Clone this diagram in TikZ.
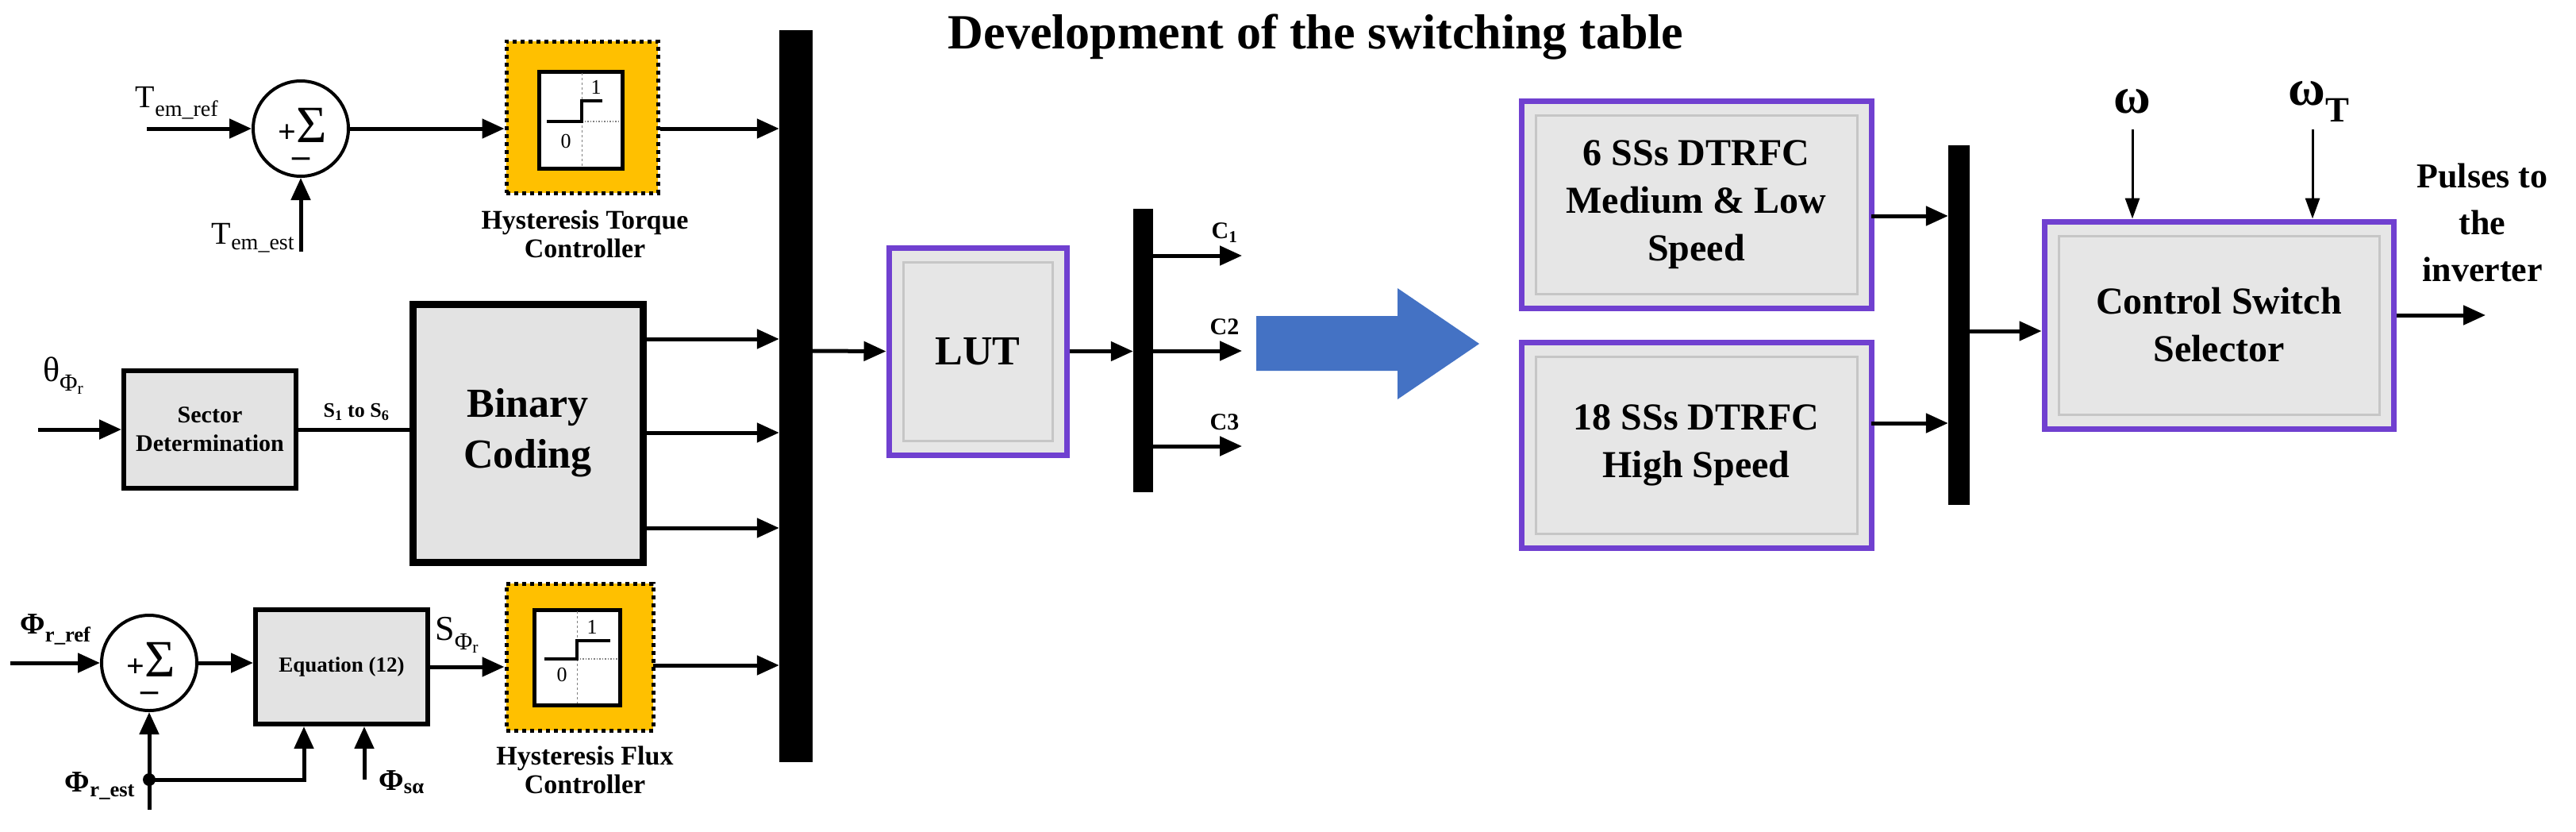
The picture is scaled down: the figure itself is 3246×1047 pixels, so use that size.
\documentclass[tikz,border=0pt]{standalone}
\usepackage{fontspec}
\setmainfont{Liberation Serif}
\usetikzlibrary{arrows.meta,calc}
\newcommand\fsz[2]{\fontsize{#1}{#2}\selectfont}
\definecolor{pur}{HTML}{7040D0}
\definecolor{boxg}{HTML}{E6E6E6}
\definecolor{hy}{HTML}{FFC000}
\definecolor{blu}{HTML}{4472C4}
\begin{document}
\begin{tikzpicture}[x=1pt,y=-1pt,
  arr/.style={-{Triangle[length=28pt,width=24pt]},line width=5pt},
  tarr/.style={-{Triangle[length=26pt,width=18pt]},line width=3pt},
  pbox/.style={draw=pur,line width=7pt,fill=boxg,inner sep=0pt,align=center,
    font=\bfseries\fsz{48}{60},
    path picture={\draw[gray!45,line width=3pt] ([shift={(18pt,-18pt)}]path picture bounding box.north west) rectangle ([shift={(-18pt,18pt)}]path picture bounding box.south east);}},
  kbox/.style={draw=black,line width=7pt,fill=gray!22,inner sep=0pt,align=center},
  bus/.style={fill=black,inner sep=0pt},
  sumc/.style={circle,draw,line width=4pt,minimum size=120pt,inner sep=0pt,fill=white},
  hyst/.style={fill=hy,draw=black,line width=5pt,dash pattern=on 5pt off 5pt,inner sep=0pt},
  lab/.style={inner sep=0pt,align=center}]
\useasboundingbox (0,0) rectangle (3246,1047);
\fill[white] (0,0) rectangle (3246,1047);

% title
\node[lab,font=\bfseries\fsz{62}{70}] (title) at (1658,47) {Development of the switching table};

% ---- torque loop
\node[sumc] (sum1) at (379,162) {};
\node[lab,font=\fsz{66}{66}] (sg1) at (381,158) {{\bfseries\fsz{40}{40}+}Σ};
\node[lab,font=\bfseries\fsz{44}{44}] (m1) at (379,205) {–};
\node[hyst,minimum width=191pt,minimum height=191pt] (hystT) at (733.5,147.5) {};
\draw[line width=5pt,fill=white] (679,90) rectangle (784,212);
\draw[gray,line width=1pt,dashed] (733,92) -- (733,210);
\draw[gray,line width=1.5pt,dotted] (733,153) -- (782,153);
\draw[line width=4pt] (689,153) -- (733,153) -- (733,127) -- (759,127);
\node[lab,font=\fsz{26}{26}] (one1) at (751,110) {1};
\node[lab,font=\fsz{26}{26}] (zero1) at (713,178) {0};
\node[lab,font=\bfseries\fsz{34}{36}] (htl) at (737,295) {Hysteresis Torque\\Controller};
\node[lab,font=\fsz{40}{40}] (tref) at (223,130) {T\textsubscript{em\_ref}};
\node[lab,font=\fsz{40}{40}] (test) at (319,300) {T\textsubscript{em\_est}};
\coordinate (trefin) at (185,162);
\coordinate (testin) at (379,317);
\draw[arr] (trefin) -- (sum1.west);
\draw[arr] (testin) -- (sum1.south);
\draw[arr] (sum1.east) -- (sum1.east -| hystT.west);

% ---- bus 1
\node[bus,minimum width=42pt,minimum height=922pt] (bus1) at (1003,499) {};
\draw[arr] (hystT.east |- sum1) -- (sum1 -| bus1.west);

% ---- sector / binary
\node[kbox,line width=6pt,minimum width=217pt,minimum height=148pt,font=\bfseries\fsz{30}{36}] (sector) at (264.5,541) {Sector\\Determination};
\node[kbox,line width=9pt,minimum width=290pt,minimum height=325pt,font=\bfseries\fsz{52}{64}] (binary) at (665,545.5) {Binary\\Coding};
\node[lab,font=\fsz{44}{44}] (theta) at (80,473) {θ\textsubscript{Φ\textsubscript{r}}};
\coordinate (thin) at (48,541);
\draw[arr] (thin) -- (sector.west);
\draw[line width=5pt] (sector.east) -- (sector.east -| binary.west);
\node[lab,font=\bfseries\fsz{26}{26}] (s16) at (449,519) {S\textsubscript{1} to S\textsubscript{6}};
\coordinate (b1) at (810,427);
\coordinate (b2) at (810,545);
\coordinate (b3) at (810,665);
\draw[arr] (b1) -- (b1 -| bus1.west);
\draw[arr] (b2) -- (b2 -| bus1.west);
\draw[arr] (b3) -- (b3 -| bus1.west);

% ---- flux loop
\node[sumc] (sum2) at (188,835) {};
\node[lab,font=\fsz{66}{66}] (sg2) at (190,831) {{\bfseries\fsz{40}{40}+}Σ};
\node[lab,font=\bfseries\fsz{44}{44}] (m2) at (188,878) {–};
\node[kbox,line width=6pt,minimum width=217pt,minimum height=144pt,font=\bfseries\fsz{27}{30}] (eq) at (430.5,840) {Equation (12)};
\node[hyst,minimum width=185pt,minimum height=185pt] (hystF) at (730.5,827.5) {};
\draw[line width=5pt,fill=white] (673,768) rectangle (781,888);
\draw[gray,line width=1pt,dashed] (727,770) -- (727,886);
\draw[gray,line width=1.5pt,dotted] (727,830) -- (779,830);
\draw[line width=4pt] (686,830) -- (727,830) -- (727,807) -- (769,807);
\node[lab,font=\fsz{26}{26}] (one2) at (746,790) {1};
\node[lab,font=\fsz{26}{26}] (zero2) at (708,850) {0};
\node[lab,font=\bfseries\fsz{34}{36}] (hfl) at (737,970) {Hysteresis Flux\\Controller};
\node[lab,font=\bfseries\fsz{38}{38}] (pref) at (70,793) {Φ\textsubscript{r\_ref}};
\node[lab,font=\bfseries\fsz{38}{38}] (pest) at (126,990) {Φ\textsubscript{r\_est}};
\node[lab,font=\bfseries\fsz{38}{38}] (psa) at (506,985) {Φ\textsubscript{sα}};
\node[lab,font=\fsz{44}{44}] (sphi) at (576,800) {S\textsubscript{Φ\textsubscript{r}}};
\coordinate (prefin) at (13,835);
\draw[arr] (prefin) -- (sum2.west);
\draw[arr] (sum2.east) -- (sum2.east -| eq.west);
\draw[arr] (eq.east) -- (eq.east -| hystF.west);
\coordinate (fo) at (823,838);
\draw[arr] (fo) -- (fo -| bus1.west);
\coordinate (pestin) at (188,1020);
\coordinate (dot) at (188,982);
\coordinate (eqin) at (383,982);
\coordinate (psain) at (459,982);
\draw[arr] (pestin) -- (sum2.south);
\draw[arr] (dot) -- (eqin) -- (eqin |- eq.south);
\draw[arr] (psain) -- (psain |- eq.south);
\fill (dot) circle (8pt);

% ---- LUT
\node[pbox,minimum width=224pt,minimum height=261pt,font=\bfseries\fsz{52}{60}] (lut) at (1232,442.5) {LUT};
\coordinate (lutin) at (1024,442);
\draw[arr] (lutin) -- (lut.west);
\node[bus,minimum width=25pt,minimum height=357pt] (bus2) at (1440.5,441.5) {};
\draw[arr] (lut.east) -- (lut.east -| bus2.west);
\coordinate (c1) at (1565,322);
\coordinate (c2) at (1565,442);
\coordinate (c3) at (1565,562);
\draw[arr] (c1 -| bus2.east) -- (c1);
\draw[arr] (c2 -| bus2.east) -- (c2);
\draw[arr] (c3 -| bus2.east) -- (c3);
\node[lab,font=\bfseries\fsz{30}{30}] (lc1) at (1543,293) {C\textsubscript{1}};
\node[lab,font=\bfseries\fsz{30}{30}] (lc2) at (1543,412) {C2};
\node[lab,font=\bfseries\fsz{30}{30}] (lc3) at (1543,532) {C3};

% ---- blue arrow
\fill[blu] (1583,398) -- (1761,398) -- (1761,363) -- (1864,433) -- (1761,503) -- (1761,467) -- (1583,467) -- cycle;

% ---- right part
\node[pbox,minimum width=441pt,minimum height=261pt] (box1) at (2137.5,257.5) {6 SSs DTRFC\\Medium \& Low\\Speed};
\node[pbox,minimum width=441pt,minimum height=259pt] (box2) at (2137.5,560.5) {18 SSs DTRFC\\High Speed};
\node[bus,minimum width=27pt,minimum height=453pt] (bus3) at (2468.5,409.5) {};
\node[pbox,minimum width=440pt,minimum height=261pt] (css) at (2796,409.5) {Control Switch\\Selector};
\coordinate (o1) at (2358,272);
\coordinate (o2) at (2358,533);
\draw[arr] (o1) -- (o1 -| bus3.west);
\draw[arr] (o2) -- (o2 -| bus3.west);
\coordinate (cin) at (2482,417);
\draw[arr] (cin) -- (cin -| css.west);
\coordinate (w1) at (2687,163);
\coordinate (w2) at (2914,163);
\draw[tarr] (w1) -- (w1 |- css.north);
\draw[tarr] (w2) -- (w2 |- css.north);
\node[lab,font=\bfseries\fsz{64}{64}] (lw) at (2687,128) {ω};
\node[lab,font=\bfseries\fsz{64}{64}] (lwt) at (2922,128) {ω\textsubscript{T}};
\coordinate (pout) at (3132,397);
\draw[arr] (pout -| css.east) -- (pout);
\node[lab,font=\bfseries\fsz{44}{59}] (pulses) at (3128,280) {Pulses to\\the\\inverter};
\end{tikzpicture}
\end{document}
